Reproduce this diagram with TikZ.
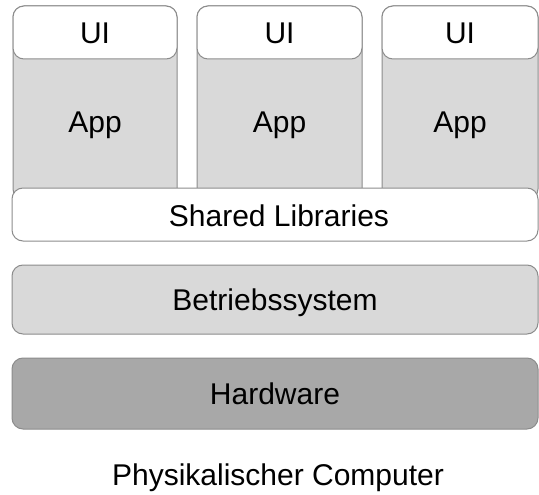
\documentclass[tikz,border=0pt]{standalone}
\usepackage{fontspec}
\setmainfont{Liberation Sans}
\definecolor{boxline}{HTML}{8C8C8C}
\definecolor{lightfill}{HTML}{D9D9D9}
\definecolor{darkfill}{HTML}{A8A8A8}
\begin{document}
\begin{tikzpicture}[x=1pt,y=-1pt,
  layer/.style={draw=boxline, line width=1pt, rounded corners=11pt,
                inner sep=0pt, outer sep=0pt},
  appbox/.style={layer, fill=lightfill, minimum height=194pt},
  uibox/.style={layer, fill=white, minimum height=53pt},
  lbl/.style={anchor=base, inner sep=0pt, text=black,
              font=\fontsize{30}{36}\selectfont}
]
\useasboundingbox (0,0) rectangle (539,495);

% application columns
\node[appbox, minimum width=164pt] (app1) at (95,103) {};
\node[appbox, minimum width=165pt] (app2) at (279.5,103) {};
\node[appbox, minimum width=156pt] (app3) at (460,103) {};

% UI caps on top of each column
\node[uibox, minimum width=164pt] (ui1) at (95,32.5) {};
\node[uibox, minimum width=165pt] (ui2) at (279.5,32.5) {};
\node[uibox, minimum width=156pt] (ui3) at (460,32.5) {};

% shared layers
\node[layer, fill=white, minimum width=526pt, minimum height=53pt] (shared) at (275,214.5) {};
\node[layer, fill=lightfill, minimum width=526pt, minimum height=69pt] (os) at (275,299.5) {};
\node[layer, fill=darkfill, minimum width=526pt, minimum height=71pt] (hw) at (275,393.5) {};

% labels
\node[lbl] (ui1t) at (95,44) {UI};
\node[lbl] (ui2t) at (279.5,44) {UI};
\node[lbl] (ui3t) at (460,44) {UI};
\node[lbl] (app1t) at (95,133) {App};
\node[lbl] (app2t) at (279.5,133) {App};
\node[lbl] (app3t) at (460,133) {App};
\node[lbl] (sharedt) at (279,226) {Shared Libraries};
\node[lbl] (ost) at (275,310) {Betriebssystem};
\node[lbl] (hwt) at (275,404) {Hardware};
\node[lbl] (caption) at (278,485) {Physikalischer Computer};
\end{tikzpicture}
\end{document}
